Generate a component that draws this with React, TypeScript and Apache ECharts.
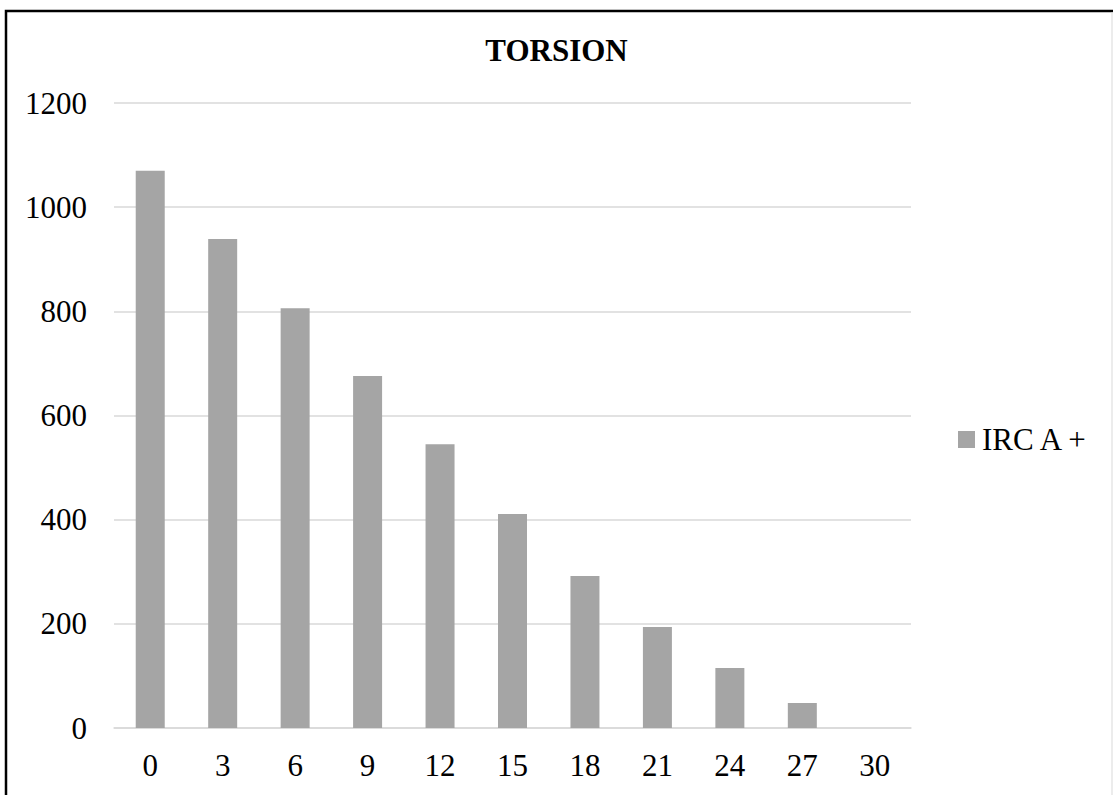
import React, { useEffect, useRef } from "react";
import * as echarts from "echarts";

const categories = ["0", "3", "6", "9", "12", "15", "18", "21", "24", "27", "30"];
const seriesName = "IRC A +";
const values = [1070, 939, 806, 676, 545, 411, 292, 194, 115, 48, 0];
const chartTitle = "TORSION";

export default function App() {
  const ref = useRef<HTMLDivElement>(null);
  useEffect(() => {
    if (!ref.current) return;
    const chart = echarts.init(ref.current, null, { renderer: "svg" });
    const font = "'Liberation Serif', 'Times New Roman', serif";
    chart.setOption({
      animation: false,
      backgroundColor: "#ffffff",
      textStyle: { fontFamily: font },
      title: {
        text: chartTitle,
        left: "center",
        top: 30,
        textStyle: { fontFamily: font, fontSize: 31, fontWeight: "bold", color: "#000" },
      },
      graphic: [
        {
          type: "rect",
          shape: { x: 6, y: 11, width: 1130, height: 820 },
          style: { fill: "none", stroke: "#000", lineWidth: 2.5 },
          silent: true,
        },
        {
          type: "line",
          shape: { x1: 1112, y1: 12, x2: 1112, y2: 795 },
          style: { stroke: "#d9d9d9", lineWidth: 1 },
          silent: true,
        },
      ],
      legend: {
        data: [seriesName],
        left: 953,
        top: 419,
        orient: "vertical",
        itemWidth: 17,
        itemHeight: 17,
        itemGap: 10,
        icon: "rect",
        textStyle: { fontFamily: font, fontSize: 31, color: "#000", padding: [0, 0, 0, 2] },
      },
      grid: { left: 114, right: 202, top: 103, bottom: 67, containLabel: false },
      xAxis: {
        type: "category",
        data: categories,
        axisLine: { lineStyle: { color: "#d9d9d9", width: 1.5 } },
        axisTick: { show: false },
        axisLabel: { fontFamily: font, fontSize: 31, color: "#000", margin: 22 },
      },
      yAxis: {
        type: "value",
        min: 0,
        max: 1200,
        interval: 200,
        axisLine: { show: false },
        axisTick: { show: false },
        splitLine: { lineStyle: { color: "#d9d9d9", width: 1.5 } },
        axisLabel: {
          fontFamily: font,
          fontSize: 31,
          color: "#000",
          margin: 27,
          formatter: (v: number) => String(v),
        },
      },
      series: [
        {
          name: seriesName,
          type: "bar",
          data: values,
          barWidth: 29,
          itemStyle: { color: "#a5a5a5" },
        },
      ],
    });
    return () => chart.dispose();
  }, []);
  return (
    <div
      ref={ref}
      style={{ position: "fixed", left: 0, top: 0, width: 1113, height: 795, background: "#fff" }}
    />
  );
}
